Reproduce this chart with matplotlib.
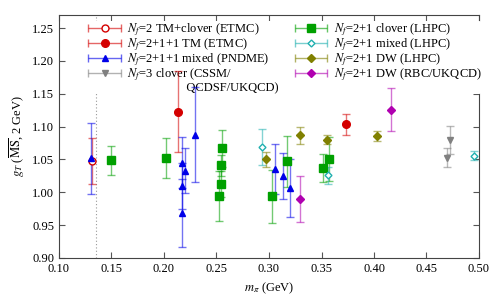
import numpy as np
import matplotlib
matplotlib.use("Agg")
import matplotlib.pyplot as plt
from matplotlib.container import ErrorbarContainer
from matplotlib.legend_handler import HandlerErrorbar
from matplotlib.lines import Line2D

plt.rcParams['font.family'] = ['Liberation Serif', 'DejaVu Serif']
plt.rcParams['mathtext.fontset'] = 'stix'

# ETMC, Nf=2 TM+clover
etmc2_mpi = [0.131]
etmc2_gt = [1.048]
etmc2_err = [0.035]

# ETMC, Nf=2+1+1 TM
etmc4_mpi = [0.213, 0.373]
etmc4_gt = [1.123, 1.104]
etmc4_err = [0.062, 0.016]

# PNDME, Nf=2+1+1 mixed
pndme_mpi = [0.1305, 0.2175, 0.2175, 0.2175, 0.2203, 0.2292, 0.3057, 0.3133, 0.3200]
pndme_gt = [1.052, 1.045, 1.009, 0.968, 1.033, 1.088, 1.035, 1.025, 1.007]
pndme_err = [0.054, 0.039, 0.035, 0.052, 0.034, 0.072, 0.038, 0.035, 0.044]

# CSSM/QCDSF/UKQCD, Nf=3 clover
cssm_mpi = [0.470, 0.4724]
cssm_gt = [1.053, 1.080]
cssm_err = [0.014, 0.021]

# LHPC, Nf=2+1 clover
lhpc_cl_mpi = [0.1492, 0.2022, 0.2550, 0.2543, 0.2540, 0.2524, 0.3025, 0.3175, 0.3511, 0.3568]
lhpc_cl_gt = [1.049, 1.052, 1.067, 1.041, 1.013, 0.995, 0.994, 1.047, 1.037, 1.051]
lhpc_cl_err = [0.022, 0.030, 0.028, 0.016, 0.020, 0.038, 0.040, 0.039, 0.022, 0.033]

# LHPC, Nf=2+1 mixed
lhpc_mx_mpi = [0.293, 0.3562, 0.495]
lhpc_mx_gt = [1.069, 1.026, 1.056]
lhpc_mx_err = [0.027, 0.013, 0.007]

# LHPC, Nf=2+1 DW
lhpc_dw_mpi = [0.2975, 0.3292, 0.355, 0.4032]
lhpc_dw_gt = [1.050, 1.087, 1.080, 1.086]
lhpc_dw_err = [0.012, 0.013, 0.007, 0.008]

# RBC/UKQCD, Nf=2+1 DW
rbc_mpi = [0.3298, 0.4165]
rbc_gt = [0.990, 1.126]
rbc_err = [0.035, 0.033]

m_phys = 0.135

series = [
    (etmc2_mpi, etmc2_gt, etmc2_err, '#d40000', 'o', True, 5, r'$N_f$=2 TM+clover (ETMC)'),
    (etmc4_mpi, etmc4_gt, etmc4_err, '#d40000', 'o', False, 5.5, r'$N_f$=2+1+1 TM (ETMC)'),
    (pndme_mpi, pndme_gt, pndme_err, '#0000e8', '^', False, 5, r'$N_f$=2+1+1 mixed (PNDME)'),
    (cssm_mpi, cssm_gt, cssm_err, '#808080', 'v', False, 5, r'$N_f$=3 clover (CSSM/'),
    (lhpc_cl_mpi, lhpc_cl_gt, lhpc_cl_err, '#00a000', 's', False, 5.5, r'$N_f$=2+1 clover (LHPC)'),
    (lhpc_mx_mpi, lhpc_mx_gt, lhpc_mx_err, '#20b0b0', 'D', True, 3.5, r'$N_f$=2+1 mixed (LHPC)'),
    (lhpc_dw_mpi, lhpc_dw_gt, lhpc_dw_err, '#808000', 'D', False, 4, r'$N_f$=2+1 DW (LHPC)'),
    (rbc_mpi, rbc_gt, rbc_err, '#b000b0', 'D', False, 4, r'$N_f$=2+1 DW (RBC/UKQCD)'),
]

fig = plt.figure(figsize=(5, 3), dpi=100)
ax = fig.add_axes([0.118, 0.14, 0.84, 0.81])

ax.axvline(m_phys, color='#999999', ls=(0, (1, 2)), lw=0.8, zorder=0)

handles = []
labels = []
for xs, ys, es, col, mk, hollow, ms, lab in series:
    face = 'white' if hollow else col
    ax.errorbar(xs, ys, yerr=es, fmt=mk, color=col, mfc=face, mec=col, ms=ms,
                ecolor=matplotlib.colors.to_rgba(col, 0.55), elinewidth=1.0,
                capsize=3, capthick=1.0, zorder=6)
    h = ax.errorbar([np.nan], [np.nan], xerr=[1.0], fmt=mk, color=col, mfc=face,
                    mec=col, ms=ms, ecolor=matplotlib.colors.to_rgba(col, 0.6),
                    elinewidth=1.0, capsize=3)
    handles.append(h)
    labels.append(lab)

# second line of the CSSM label, indented like the reference
blank = Line2D([], [], color='none')
handles.insert(4, blank)
labels.insert(4, '                   QCDSF/UKQCD)')
handles.append(blank)
labels.append('')

ax.set_xlim(0.10, 0.50)
ax.set_ylim(0.90, 1.27)
ax.set_xticks(np.arange(0.10, 0.501, 0.05))
ax.set_yticks(np.arange(0.90, 1.251, 0.05))
ax.xaxis.set_major_formatter(matplotlib.ticker.FormatStrFormatter('%.2f'))
ax.yaxis.set_major_formatter(matplotlib.ticker.FormatStrFormatter('%.2f'))
ax.tick_params(direction='in', top=True, right=True, length=4, labelsize=9,
               color='#555555', width=0.8)
for s in ax.spines.values():
    s.set_color('#444444')
    s.set_linewidth(0.8)

ax.set_xlabel(r'$m_\pi$ (GeV)', fontsize=9)
ax.set_ylabel(r'$g_T$ ($\overline{\rm MS}$, 2 GeV)', fontsize=9)

leg = ax.legend(handles, labels, ncol=2, loc='upper left',
                bbox_to_anchor=(0.07, 0.975), fontsize=9, frameon=True,
                handlelength=2.6, handletextpad=0.5, columnspacing=1.3,
                labelspacing=-0.12, borderpad=0.0, borderaxespad=0.0,
                handler_map={ErrorbarContainer: HandlerErrorbar(xerr_size=1.3)})
leg.get_frame().set_facecolor('white')
leg.get_frame().set_edgecolor('none')
leg.get_frame().set_alpha(1.0)
leg.set_zorder(5)

fig.savefig('out.png', dpi=100)
